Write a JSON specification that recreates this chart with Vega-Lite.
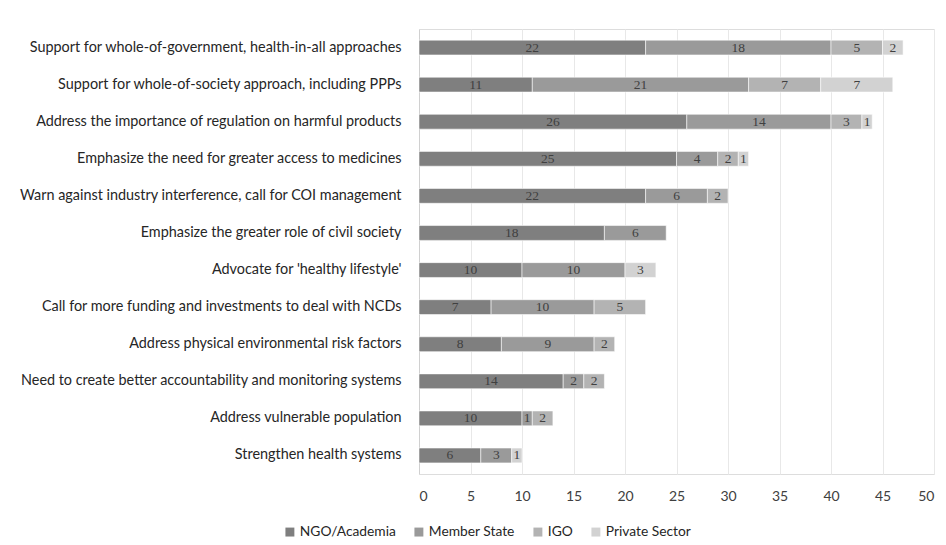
{
  "$schema": "https://vega.github.io/schema/vega-lite/v6.json",
  "autosize": "none",
  "width": 515,
  "height": 445,
  "padding": {"left": 419, "top": 29, "right": 12, "bottom": 71},
  "background": "white",
  "data": {"values": [
    {"topic": "Support for whole-of-government, health-in-all approaches", "group": "NGO/Academia", "rank": 1, "value": 22},
    {"topic": "Support for whole-of-government, health-in-all approaches", "group": "Member State", "rank": 2, "value": 18},
    {"topic": "Support for whole-of-government, health-in-all approaches", "group": "IGO", "rank": 3, "value": 5},
    {"topic": "Support for whole-of-government, health-in-all approaches", "group": "Private Sector", "rank": 4, "value": 2},
    {"topic": "Support for whole-of-society approach, including PPPs", "group": "NGO/Academia", "rank": 1, "value": 11},
    {"topic": "Support for whole-of-society approach, including PPPs", "group": "Member State", "rank": 2, "value": 21},
    {"topic": "Support for whole-of-society approach, including PPPs", "group": "IGO", "rank": 3, "value": 7},
    {"topic": "Support for whole-of-society approach, including PPPs", "group": "Private Sector", "rank": 4, "value": 7},
    {"topic": "Address the importance of regulation on harmful products", "group": "NGO/Academia", "rank": 1, "value": 26},
    {"topic": "Address the importance of regulation on harmful products", "group": "Member State", "rank": 2, "value": 14},
    {"topic": "Address the importance of regulation on harmful products", "group": "IGO", "rank": 3, "value": 3},
    {"topic": "Address the importance of regulation on harmful products", "group": "Private Sector", "rank": 4, "value": 1},
    {"topic": "Emphasize the need for greater access to medicines", "group": "NGO/Academia", "rank": 1, "value": 25},
    {"topic": "Emphasize the need for greater access to medicines", "group": "Member State", "rank": 2, "value": 4},
    {"topic": "Emphasize the need for greater access to medicines", "group": "IGO", "rank": 3, "value": 2},
    {"topic": "Emphasize the need for greater access to medicines", "group": "Private Sector", "rank": 4, "value": 1},
    {"topic": "Warn against industry interference, call for COI management", "group": "NGO/Academia", "rank": 1, "value": 22},
    {"topic": "Warn against industry interference, call for COI management", "group": "Member State", "rank": 2, "value": 6},
    {"topic": "Warn against industry interference, call for COI management", "group": "IGO", "rank": 3, "value": 2},
    {"topic": "Emphasize the greater role of civil society", "group": "NGO/Academia", "rank": 1, "value": 18},
    {"topic": "Emphasize the greater role of civil society", "group": "Member State", "rank": 2, "value": 6},
    {"topic": "Advocate for 'healthy lifestyle'", "group": "NGO/Academia", "rank": 1, "value": 10},
    {"topic": "Advocate for 'healthy lifestyle'", "group": "Member State", "rank": 2, "value": 10},
    {"topic": "Advocate for 'healthy lifestyle'", "group": "Private Sector", "rank": 4, "value": 3},
    {"topic": "Call for more funding and investments to deal with NCDs", "group": "NGO/Academia", "rank": 1, "value": 7},
    {"topic": "Call for more funding and investments to deal with NCDs", "group": "Member State", "rank": 2, "value": 10},
    {"topic": "Call for more funding and investments to deal with NCDs", "group": "IGO", "rank": 3, "value": 5},
    {"topic": "Address physical environmental risk factors ", "group": "NGO/Academia", "rank": 1, "value": 8},
    {"topic": "Address physical environmental risk factors ", "group": "Member State", "rank": 2, "value": 9},
    {"topic": "Address physical environmental risk factors ", "group": "IGO", "rank": 3, "value": 2},
    {"topic": "Need to create better accountability and monitoring systems", "group": "NGO/Academia", "rank": 1, "value": 14},
    {"topic": "Need to create better accountability and monitoring systems", "group": "Member State", "rank": 2, "value": 2},
    {"topic": "Need to create better accountability and monitoring systems", "group": "IGO", "rank": 3, "value": 2},
    {"topic": "Address vulnerable population", "group": "NGO/Academia", "rank": 1, "value": 10},
    {"topic": "Address vulnerable population", "group": "Member State", "rank": 2, "value": 1},
    {"topic": "Address vulnerable population", "group": "IGO", "rank": 3, "value": 2},
    {"topic": "Strengthen health systems", "group": "NGO/Academia", "rank": 1, "value": 6},
    {"topic": "Strengthen health systems", "group": "Member State", "rank": 2, "value": 3},
    {"topic": "Strengthen health systems", "group": "Private Sector", "rank": 4, "value": 1}
  ]},
  "encoding": {
    "y": {
      "field": "topic", "type": "nominal", "sort": null,
      "scale": {"paddingInner": 0.6, "paddingOuter": 0.3},
      "axis": {"title": null, "ticks": false, "labelPadding": 18, "labelFont": "Lato", "labelFontSize": 14.4, "labelColor": "#262626", "labelLimit": 420, "domainColor": "#d0d0d0", "grid": false}
    },
    "order": {"field": "rank", "type": "quantitative", "sort": "ascending"}
  },
  "layer": [
    {
      "mark": {"type": "bar", "stroke": "#ffffff", "strokeWidth": 0.8, "strokeOpacity": 0.7},
      "encoding": {
        "x": {
          "field": "value", "type": "quantitative", "stack": "zero",
          "scale": {"domain": [0, 50]},
          "axis": {"title": null, "values": [0,5,10,15,20,25,30,35,40,45,50], "ticks": false, "domain": false, "gridColor": "#e8e8e8", "labelFont": "Lato", "labelFontSize": 14, "labelColor": "#404040", "labelPadding": 15}
        },
        "color": {
          "field": "group", "type": "nominal",
          "scale": {"domain": ["NGO/Academia", "Member State", "IGO", "Private Sector"], "range": ["#7f7f7f", "#9a9a9a", "#b3b3b3", "#d2d2d2"]},
          "legend": {"title": null, "orient": "none", "legendX": -136, "legendY": 496, "direction": "horizontal", "columns": 4, "symbolType": "square", "symbolSize": 80, "symbolStrokeWidth": 0, "labelFont": "Lato", "labelFontSize": 13.8, "labelColor": "#262626", "columnPadding": 16, "labelOffset": 3}
        }
      }
    },
    {
      "mark": {"type": "text", "font": "Liberation Serif", "fontSize": 13.5, "color": "#404040"},
      "encoding": {
        "x": {"field": "value", "type": "quantitative", "stack": "zero", "bandPosition": 0.5},
        "detail": {"field": "group", "type": "nominal"},
        "text": {"field": "value", "type": "quantitative"}
      }
    }
  ]
}
